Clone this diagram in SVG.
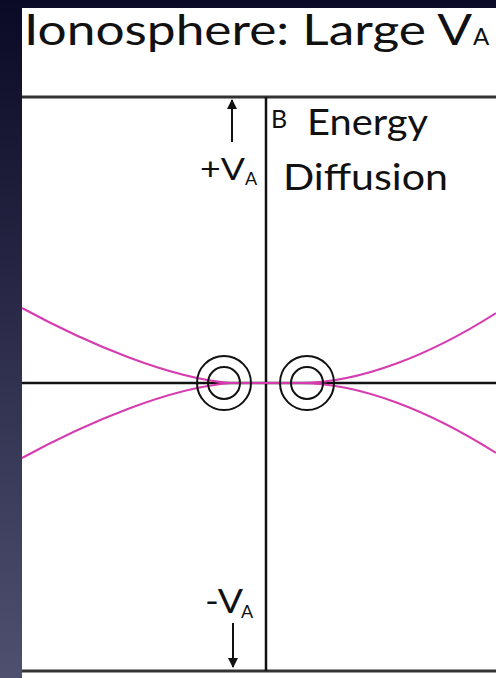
<svg xmlns="http://www.w3.org/2000/svg" width="496" height="678" viewBox="0 0 496 678">
<defs>
<linearGradient id="bg" x1="0" y1="0" x2="0" y2="1">
<stop offset="0" stop-color="#0a0a26"/>
<stop offset="1" stop-color="#4f4f70"/>
</linearGradient>
<marker id="ah" viewBox="0 0 10 10" refX="9" refY="5" markerWidth="10" markerHeight="10" markerUnits="userSpaceOnUse" orient="auto">
<path d="M0,0 L10,5 L0,10 z" fill="#111"/>
</marker>
<style>
.t{font-family:Lato,"Open Sans","DejaVu Sans",sans-serif;fill:#111}
.ax{stroke:#111;stroke-width:2.5;fill:none}
.frame{stroke:#333;stroke-width:3;fill:none}
.c{stroke:#111;stroke-width:2;fill:none}
.pk{stroke:#d63cb0;stroke-width:2;fill:none}
.ar{stroke:#111;stroke-width:2;fill:none}
</style>
</defs>
<rect x="0" y="0" width="496" height="678" fill="url(#bg)"/>
<rect x="22" y="8" width="474" height="670" fill="#fff"/>
<text class="t" x="24" y="45" font-size="42" textLength="448" lengthAdjust="spacingAndGlyphs">Ionosphere: Large V</text>
<text class="t" x="473" y="45" font-size="24">A</text>
<g id="connectors">
<line class="frame" x1="22" y1="97" x2="496" y2="97"/>
<line class="frame" x1="22" y1="671" x2="496" y2="671"/>
<line class="ax" x1="266" y1="97" x2="266" y2="671"/>
<line class="ax" x1="22" y1="383" x2="496" y2="383"/>
<path class="pk" d="M22,308 C90,345 170,378 230,383 L300,383 C360,383 430,355 496,313"/>
<path class="pk" d="M22,458 C90,421 170,388 230,383 L300,383 C360,383 430,411 496,453"/>
<line class="ar" x1="232" y1="142" x2="232" y2="100" marker-end="url(#ah)"/>
<line class="ar" x1="233" y1="623" x2="233" y2="667" marker-end="url(#ah)"/>
</g>
<g id="node-left">
<circle class="c" cx="224" cy="383" r="27"/>
<circle class="c" cx="224" cy="383" r="16"/>
</g>
<g id="node-right">
<circle class="c" cx="307" cy="383" r="27"/>
<circle class="c" cx="307" cy="383" r="16"/>
</g>
<g id="label-plus">
<text class="t" x="200" y="180" font-size="31" textLength="45" lengthAdjust="spacingAndGlyphs">+V</text>
<text class="t" x="245" y="185" font-size="18">A</text>
</g>
<g id="label-minus">
<text class="t" x="205" y="613" font-size="33" textLength="38" lengthAdjust="spacingAndGlyphs">-V</text>
<text class="t" x="241" y="618" font-size="18">A</text>
</g>
<g id="label-b">
<text class="t" x="271" y="128" font-size="25">B</text>
<text class="t" x="307" y="135" font-size="36" textLength="121" lengthAdjust="spacingAndGlyphs">Energy</text>
<text class="t" x="283" y="190" font-size="36" textLength="165" lengthAdjust="spacingAndGlyphs">Diffusion</text>
</g>
</svg>
